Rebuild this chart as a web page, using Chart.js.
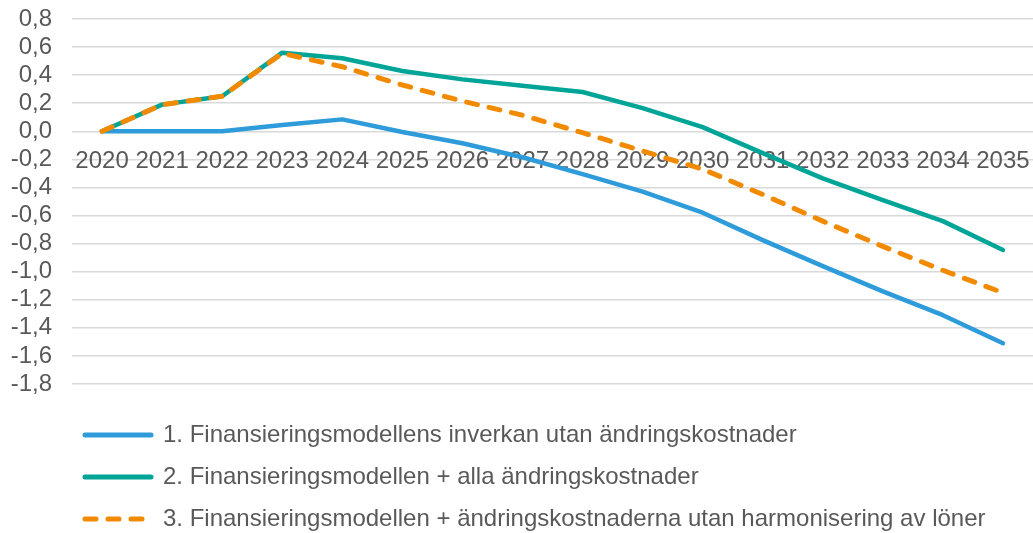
<!DOCTYPE html>
<html>
<head>
<meta charset="utf-8">
<script src="https://cdn.jsdelivr.net/npm/chart.js@4.4.1/dist/chart.umd.min.js"></script>
<style>
  html, body { margin: 0; padding: 0; background: #ffffff; overflow: hidden; }
  #wrap { position: relative; width: 1033px; height: 533px; }
</style>
</head>
<body>
<div id="wrap"><canvas id="c"></canvas></div>
<script>
const years = ['2020','2021','2022','2023','2024','2025','2026','2027','2028','2029','2030','2031','2032','2033','2034','2035'];
const seriesNames = [
  '1. Finansieringsmodellens inverkan utan ändringskostnader',
  '2. Finansieringsmodellen + alla ändringskostnader',
  '3. Finansieringsmodellen + ändringskostnaderna utan harmonisering av löner'
];
const series1 = [0, 0, 0, 0.045, 0.085, -0.005, -0.085, -0.185, -0.305, -0.43, -0.58, -0.775, -0.96, -1.14, -1.31, -1.51];
const series2 = [0, 0.19, 0.25, 0.56, 0.52, 0.43, 0.37, 0.325, 0.28, 0.165, 0.03, -0.155, -0.335, -0.49, -0.64, -0.845];
const series3 = [0, 0.19, 0.25, 0.555, 0.46, 0.33, 0.215, 0.115, -0.01, -0.14, -0.27, -0.45, -0.64, -0.82, -0.99, -1.15];
const yMin = -1.8, yMax = 0.8, yStep = 0.2;

const textColor = '#595959';
const fontFamily = '"Liberation Sans", Arial, sans-serif';

const legendPlace = {
  id: 'legendPlace',
  afterLayout(chart) {
    const lg = chart.legend;
    if (!lg) return;
    const h = lg.height;
    lg.left = 67;
    lg.top = chart.chartArea.bottom + 21;
    lg.bottom = lg.top + h;
  }
};

const noPad = (s) => { s.paddingLeft = 0; s.paddingRight = 0; s.paddingTop = 0; s.paddingBottom = 0; };

new Chart(document.getElementById('c'), {
  type: 'line',
  data: {
    labels: years,
    datasets: [
      { label: seriesNames[0], data: series1, borderColor: '#2E9BDA', backgroundColor: '#2E9BDA',
        borderWidth: 4.5, pointRadius: 0, tension: 0, borderCapStyle: 'round', borderJoinStyle: 'round', order: 2 },
      { label: seriesNames[1], data: series2, borderColor: '#00A598', backgroundColor: '#00A598',
        borderWidth: 4.5, pointRadius: 0, tension: 0, borderCapStyle: 'round', borderJoinStyle: 'round', order: 1 },
      { label: seriesNames[2], data: series3, borderColor: '#F28A00', backgroundColor: '#F28A00',
        borderWidth: 5, borderDash: [11, 12], pointRadius: 0, tension: 0, borderCapStyle: 'round', borderJoinStyle: 'round', order: 0 }
    ]
  },
  options: {
    responsive: true,
    maintainAspectRatio: false,
    animation: false,
    devicePixelRatio: 1,
    layout: { padding: { left: 10, right: 0, top: 19, bottom: 13 } },
    plugins: {
      tooltip: { enabled: false },
      legend: {
        position: 'bottom',
        align: 'start',
        labels: {
          usePointStyle: true,
          pointStyle: 'line',
          pointStyleWidth: 66,
          padding: 18,
          color: textColor,
          font: { family: fontFamily, size: 24 },
          sort: (a, b) => a.datasetIndex - b.datasetIndex,
          generateLabels: (chart) => Chart.defaults.plugins.legend.labels.generateLabels(chart).map((item) => {
            const ds = chart.data.datasets[item.datasetIndex];
            item.lineDash = ds.borderDash || [];
            item.lineCap = 'round';
            item.lineWidth = 5;
            item.strokeStyle = ds.borderColor;
            return item;
          })
        }
      }
    },
    scales: {
      x: {
        position: { y: 0 },
        offset: true,
        grid: { display: false, drawTicks: false },
        border: { display: false },
        afterFit: noPad,
        ticks: { color: textColor, font: { family: fontFamily, size: 24 }, padding: 16, maxRotation: 0, autoSkip: false }
      },
      y: {
        min: yMin, max: yMax,
        grid: { color: '#d9d9d9', lineWidth: 1.5, drawTicks: false },
        border: { display: false },
        afterFit: (s) => { noPad(s); s.width = 62; },
        ticks: {
          stepSize: yStep,
          autoSkip: false,
          padding: 20,
          color: textColor,
          font: { family: fontFamily, size: 24 },
          callback: (v) => (Math.abs(v) < 1e-9 ? 0 : v).toFixed(1).replace('.', ',')
        }
      }
    }
  },
  plugins: [legendPlace]
});
</script>
</body>
</html>
